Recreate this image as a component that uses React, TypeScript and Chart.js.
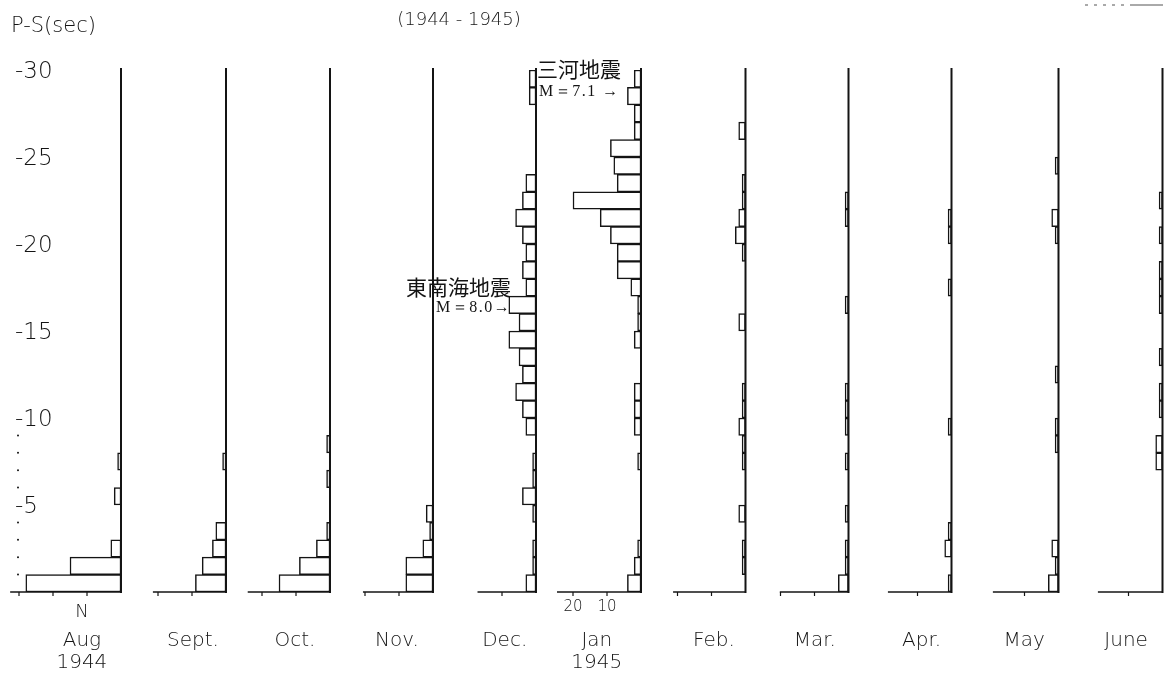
import React, { useEffect, useRef } from "react";
import { Chart, registerables } from "chart.js";

Chart.register(...registerables);

// ---------- data ----------
// P-S time bins (sec): bin k covers k..k+1 s
const BIN_LABELS = [
  "0-1", "1-2", "2-3", "3-4", "4-5", "5-6", "6-7", "7-8", "8-9", "9-10",
  "10-11", "11-12", "12-13", "13-14", "14-15", "15-16", "16-17", "17-18", "18-19", "19-20",
  "20-21", "21-22", "22-23", "23-24", "24-25", "25-26", "26-27", "27-28", "28-29", "29-30",
];

const MONTHS = ["Aug", "Sept.", "Oct.", "Nov.", "Dec.", "Jan", "Feb.", "Mar.", "Apr.", "May", "June"];
const YEARS = ["1944", "", "", "", "", "1945", "", "", "", "", ""];

// number of shocks (N) in each 1-s P-S bin, from 0 s upward
const AUG = [28, 15, 3, 0, 0, 2, 0, 1, 0, 0, 0, 0, 0, 0, 0, 0, 0, 0, 0, 0, 0, 0, 0, 0, 0, 0, 0, 0, 0, 0];
const SEPT = [9, 7, 4, 3, 0, 0, 0, 1, 0, 0, 0, 0, 0, 0, 0, 0, 0, 0, 0, 0, 0, 0, 0, 0, 0, 0, 0, 0, 0, 0];
const OCT = [15, 9, 4, 1, 0, 0, 1, 0, 1, 0, 0, 0, 0, 0, 0, 0, 0, 0, 0, 0, 0, 0, 0, 0, 0, 0, 0, 0, 0, 0];
const NOV = [8, 8, 3, 1, 2, 0, 0, 0, 0, 0, 0, 0, 0, 0, 0, 0, 0, 0, 0, 0, 0, 0, 0, 0, 0, 0, 0, 0, 0, 0];
const DEC = [3, 1, 1, 0, 1, 4, 1, 1, 0, 3, 4, 6, 4, 5, 8, 5, 8, 3, 4, 3, 4, 6, 4, 3, 0, 0, 0, 0, 2, 2];
const JAN = [4, 2, 1, 0, 0, 0, 0, 1, 0, 2, 2, 2, 0, 0, 2, 1, 1, 3, 7, 7, 9, 12, 20, 7, 8, 9, 2, 2, 4, 2];
const FEB = [0, 1, 1, 0, 2, 0, 0, 1, 1, 2, 1, 1, 0, 0, 0, 2, 0, 0, 0, 1, 3, 2, 1, 1, 0, 0, 2, 0, 0, 0];
const MAR = [3, 1, 1, 0, 1, 0, 0, 1, 0, 1, 1, 1, 0, 0, 0, 0, 1, 0, 0, 0, 0, 1, 1, 0, 0, 0, 0, 0, 0, 0];
const APR = [1, 0, 2, 1, 0, 0, 0, 0, 0, 1, 0, 0, 0, 0, 0, 0, 0, 1, 0, 0, 1, 1, 0, 0, 0, 0, 0, 0, 0, 0];
const MAY = [3, 1, 2, 0, 0, 0, 0, 0, 1, 1, 0, 0, 1, 0, 0, 0, 0, 0, 0, 0, 1, 2, 0, 0, 1, 0, 0, 0, 0, 0];
const JUNE = [0, 0, 0, 0, 0, 0, 0, 2, 2, 0, 1, 1, 0, 1, 0, 0, 1, 1, 1, 0, 1, 0, 1, 0, 0, 0, 0, 0, 0, 0];

const Y_TICKS = [5, 10, 15, 20, 25, 30];
const Y_MINOR = [1, 2, 3, 4, 6, 7, 8, 9];
const COUNT_TICKS = [10, 20, 30];
const JAN_TICK_LABELS = [20, 10];

// ---------- layout / style ----------
const W = 1165;
const H = 676;
const PX_PER_COUNT = 3.4;
const PANEL_RIGHT_PX = [121, 226, 330, 433, 536, 641, 745.5, 848.5, 951.5, 1058.5, 1162.5];
const AXIS_LEN = [32.6, 21.5, 24.2, 20.6, 17.2, 24.7, 21.3, 20.2, 18.7, 19.3, 19];
const LABEL_OFFSET = [11.5, 9.7, 10.3, 10.6, 9.2, 13, 9.3, 9.9, 8.8, 10.1, 10.7];
const INK = "#141414";
const SANS = '"DejaVu Sans", "Open Sans", sans-serif';
const CJK = '"Noto Sans CJK JP", sans-serif';
const SERIF = '"Liberation Serif", "DejaVu Serif", serif';

const ALL_COUNTS = [AUG, SEPT, OCT, NOV, DEC, JAN, FEB, MAR, APR, MAY, JUNE];
const EDGE = PANEL_RIGHT_PX.map((p) => p / PX_PER_COUNT);

// pixel of a P-S value (seconds) using the category (bin) scale
function secPixel(ys: any, s: number) {
  const c0 = ys.getPixelForValue(0);
  const c1 = ys.getPixelForValue(1);
  return c0 + (s - 0.5) * (c1 - c0);
}

const panelPlugin = {
  id: "panelDecor",
  afterDatasetsDraw(chart: any) {
    const ctx: CanvasRenderingContext2D = chart.ctx;
    const xs = chart.scales.x;
    const ys = chart.scales.y;
    const y0 = secPixel(ys, 0);
    const yTop = secPixel(ys, 30);
    ctx.save();
    ctx.strokeStyle = INK;
    ctx.fillStyle = INK;

    EDGE.forEach((edge, i) => {
      const px = xs.getPixelForValue(edge);
      ctx.lineWidth = 2;
      ctx.beginPath();
      ctx.moveTo(px, y0 + 1);
      ctx.lineTo(px, yTop - 2);
      ctx.stroke();
      ctx.lineWidth = 1.6;
      ctx.beginPath();
      ctx.moveTo(xs.getPixelForValue(edge - AXIS_LEN[i]), y0);
      ctx.lineTo(px, y0);
      ctx.stroke();
      ctx.lineWidth = 1.2;
      COUNT_TICKS.forEach((t) => {
        if (t <= AXIS_LEN[i]) {
          const tx = xs.getPixelForValue(edge - t);
          ctx.beginPath();
          ctx.moveTo(tx, y0);
          ctx.lineTo(tx, y0 + 4);
          ctx.stroke();
        }
      });
      const lx = xs.getPixelForValue(edge - LABEL_OFFSET[i]);
      ctx.font = `200 20px ${SANS}`;
      ctx.textAlign = "center";
      ctx.textBaseline = "alphabetic";
      ctx.fillText(MONTHS[i], lx, 646);
      if (YEARS[i]) ctx.fillText(YEARS[i], lx, 668);
    });

    ctx.font = `200 18px ${SANS}`;
    ctx.textAlign = "center";
    ctx.fillText("N", xs.getPixelForValue(EDGE[0] - LABEL_OFFSET[0]), 617);

    ctx.font = `200 15px ${SANS}`;
    JAN_TICK_LABELS.forEach((t) => {
      ctx.fillText(String(t), xs.getPixelForValue(EDGE[5] - t), 611);
    });

    ctx.font = `200 23px ${SANS}`;
    ctx.textAlign = "left";
    ctx.textBaseline = "middle";
    Y_TICKS.forEach((v) => {
      ctx.fillText("-" + v, 15, secPixel(ys, v) + 2);
    });
    Y_MINOR.forEach((v) => {
      ctx.beginPath();
      ctx.arc(18, secPixel(ys, v), 1, 0, Math.PI * 2);
      ctx.fill();
    });

    ctx.textBaseline = "alphabetic";
    ctx.font = `200 21px ${SANS}`;
    ctx.fillText("P-S(sec)", 11, 32);
    ctx.font = `200 18px ${SANS}`;
    ctx.textAlign = "center";
    ctx.fillText("(1944 - 1945)", 459, 25);

    ctx.textAlign = "left";
    ctx.font = `21px ${CJK}`;
    ctx.fillText("三河地震", 537, 77);
    ctx.fillText("東南海地震", 406, 295);
    ctx.font = `16px ${SERIF}`;
    (ctx as any).letterSpacing = "1.5px";
    ctx.fillText("M＝7.1 →", 539, 96);
    ctx.fillText("M＝8.0→", 436, 312);
    (ctx as any).letterSpacing = "0px";

    ctx.lineWidth = 1;
    ctx.strokeStyle = "#555";
    ctx.setLineDash([3, 6]);
    ctx.beginPath();
    ctx.moveTo(1085, 5);
    ctx.lineTo(1128, 5);
    ctx.stroke();
    ctx.setLineDash([]);
    ctx.beginPath();
    ctx.moveTo(1130, 5);
    ctx.lineTo(1163, 5);
    ctx.stroke();

    ctx.restore();
  },
};

export default function App() {
  const canvasRef = useRef<HTMLCanvasElement | null>(null);

  useEffect(() => {
    if (!canvasRef.current) return;
    const datasets = ALL_COUNTS.map((counts, i) => ({
      label: MONTHS[i],
      data: counts.map((n) => (n > 0 ? [EDGE[i] - n, EDGE[i]] : null)),
      backgroundColor: "#ffffff",
      borderColor: INK,
      borderWidth: 1.5,
      borderSkipped: false as const,
      grouped: false,
      barPercentage: 1,
      categoryPercentage: 1,
    }));
    const chart = new Chart(canvasRef.current, {
      type: "bar",
      data: { labels: BIN_LABELS, datasets: datasets as any },
      options: {
        indexAxis: "y",
        animation: false,
        responsive: true,
        maintainAspectRatio: false,
        layout: { padding: { top: 70, bottom: H - 592, left: 0, right: 0 } },
        plugins: {
          legend: { display: false },
          tooltip: { enabled: false },
        },
        scales: {
          x: { type: "linear", min: 0, max: W / PX_PER_COUNT, display: false },
          y: { type: "category", reverse: true, offset: true, display: false },
        },
      } as any,
      plugins: [panelPlugin],
    });
    return () => chart.destroy();
  }, []);

  return (
    <div style={{ position: "fixed", left: 0, top: 0, width: W, height: H, background: "#fff" }}>
      <canvas ref={canvasRef} />
    </div>
  );
}
